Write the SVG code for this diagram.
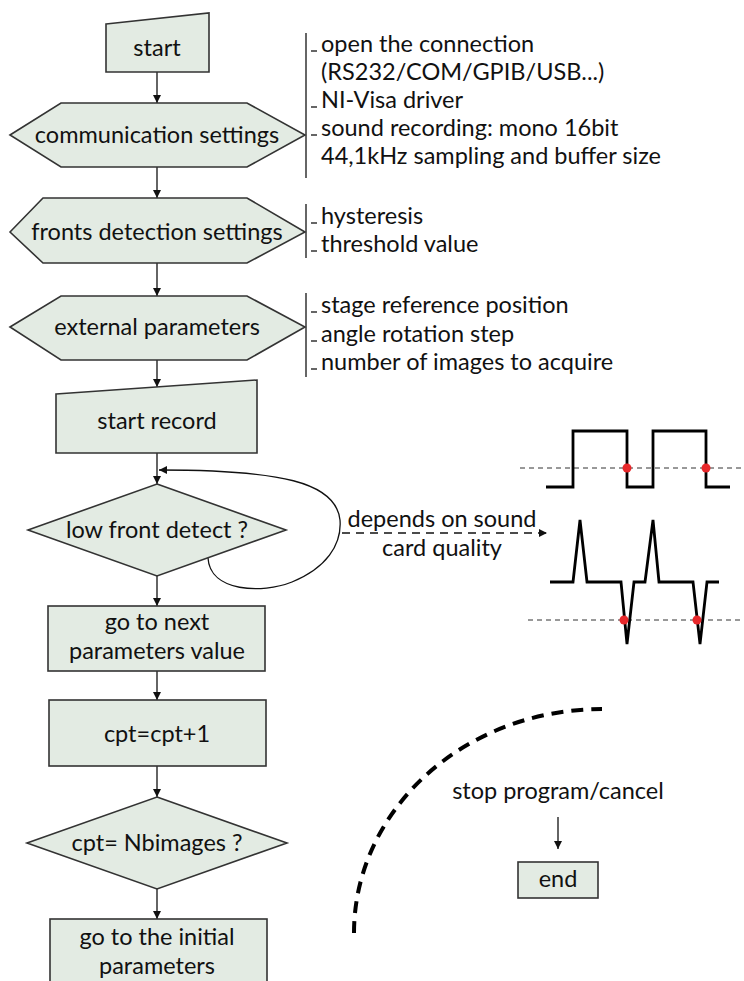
<svg xmlns="http://www.w3.org/2000/svg" width="744" height="981" viewBox="0 0 744 981">
<defs>
<marker id="ah" viewBox="0 0 10 10" refX="10" refY="5" markerWidth="8" markerHeight="8" markerUnits="userSpaceOnUse" orient="auto">
<path d="M0,0 L10,5 L0,10 z" fill="#111"/>
</marker>
<style>
.n{fill:#e3ebe3;stroke:#333;stroke-width:1.6}
.t{font-family:Lato,"Liberation Sans",sans-serif;font-size:23.5px;fill:#111;text-anchor:middle}
.s{font-family:Lato,"Liberation Sans",sans-serif;font-size:23.5px;fill:#111}
.c{fill:none;stroke:#111;stroke-width:1.3}
.br{stroke:#333;stroke-width:1.5}
.w{fill:none;stroke:#000;stroke-width:2.8;stroke-linejoin:miter}
.th{stroke:#333;stroke-width:1;stroke-dasharray:5 4}
.dot{fill:#e8282b}
</style>
</defs>
<rect width="744" height="981" fill="#fff"/>

<g id="connectors">
<line class="c" x1="157" y1="72" x2="157" y2="103" marker-end="url(#ah)"/>
<line class="c" x1="157" y1="167" x2="157" y2="198" marker-end="url(#ah)"/>
<line class="c" x1="157" y1="263" x2="157" y2="296" marker-end="url(#ah)"/>
<line class="c" x1="157" y1="360" x2="157" y2="387" marker-end="url(#ah)"/>
<line class="c" x1="157" y1="453" x2="157" y2="484" marker-end="url(#ah)"/>
<line class="c" x1="157" y1="576" x2="157" y2="606" marker-end="url(#ah)"/>
<line class="c" x1="157" y1="671" x2="157" y2="700" marker-end="url(#ah)"/>
<line class="c" x1="157" y1="766" x2="157" y2="797" marker-end="url(#ah)"/>
<line class="c" x1="157" y1="889" x2="157" y2="919" marker-end="url(#ah)"/>
<path class="c" d="M208,558 C210,592 262,594 292,582 C326,568 342,545 340,520 C336,482 280,470 159,470" marker-end="url(#ah)"/>
<line class="c" x1="342" y1="533" x2="547" y2="533" stroke-dasharray="8 6" marker-end="url(#ah)"/>
<line class="c" x1="558" y1="817" x2="558" y2="849" marker-end="url(#ah)"/>
</g>

<g id="start">
<polygon class="n" points="106,24 209,13 209,72 106,72"/>
<text class="t" x="157" y="56">start</text>
</g>

<g id="communication">
<polygon class="n" points="10,135 61,103 247,103 305,135 247,167 61,167"/>
<text class="t" x="157" y="143">communication settings</text>
</g>
<g id="communication-notes">
<line class="br" x1="306" y1="33" x2="306" y2="178"/>
<line class="br" x1="311" y1="51" x2="317" y2="51"/>
<line class="br" x1="311" y1="107" x2="317" y2="107"/>
<line class="br" x1="311" y1="135" x2="317" y2="135"/>
<text class="s" x="321" y="52">open the connection</text>
<text class="s" x="321" y="80">(RS232/COM/GPIB/USB...)</text>
<text class="s" x="321" y="108">NI-Visa driver</text>
<text class="s" x="321" y="136">sound recording: mono 16bit</text>
<text class="s" x="321" y="164">44,1kHz sampling and buffer size</text>
</g>

<g id="fronts">
<polygon class="n" points="10,232 43,198 247,198 305,232 247,263 43,263"/>
<text class="t" x="157" y="240">fronts detection settings</text>
</g>
<g id="fronts-notes">
<line class="br" x1="306" y1="204" x2="306" y2="258"/>
<line class="br" x1="311" y1="223" x2="317" y2="223"/>
<line class="br" x1="311" y1="251" x2="317" y2="251"/>
<text class="s" x="321" y="224">hysteresis</text>
<text class="s" x="321" y="252">threshold value</text>
</g>

<g id="external">
<polygon class="n" points="10,327 61,296 247,296 305,327 247,360 61,360"/>
<text class="t" x="157" y="335">external parameters</text>
</g>
<g id="external-notes">
<line class="br" x1="306" y1="293" x2="306" y2="377"/>
<line class="br" x1="311" y1="312" x2="317" y2="312"/>
<line class="br" x1="311" y1="341" x2="317" y2="341"/>
<line class="br" x1="311" y1="369" x2="317" y2="369"/>
<text class="s" x="321" y="313">stage reference position</text>
<text class="s" x="321" y="342">angle rotation step</text>
<text class="s" x="321" y="370">number of images to acquire</text>
</g>

<g id="start-record">
<polygon class="n" points="56,394 257,380 257,453 56,453"/>
<text class="t" x="157" y="429">start record</text>
</g>

<g id="low-front">
<polygon class="n" points="157,484 286,530 157,576 28,530"/>
<text class="t" x="157" y="538">low front detect ?</text>
</g>

<g id="loop-label">
<text class="t" x="442" y="527">depends on sound</text>
<text class="t" x="442" y="556">card quality</text>
</g>

<g id="waveforms">
<line class="th" x1="520" y1="468" x2="744" y2="468"/>
<polyline class="w" points="546,487 573,487 573,431 627,431 627,487 653,487 653,431 706,431 706,487 730,487"/>
<circle class="dot" cx="627" cy="468" r="4.5"/>
<circle class="dot" cx="706" cy="468" r="4.5"/>
<line class="th" x1="528" y1="620" x2="744" y2="620"/>
<polyline class="w" points="550,582 573,582 580,520 587,582 621,582 627,644 634,582 645,582 653,520 659,582 693,582 700,644 707,582 719,582"/>
<circle class="dot" cx="624" cy="620" r="4.5"/>
<circle class="dot" cx="697" cy="620" r="4.5"/>
</g>

<g id="next-params">
<rect class="n" x="48" y="606" width="217" height="65"/>
<text class="t" x="157" y="630">go to next</text>
<text class="t" x="157" y="659">parameters value</text>
</g>

<g id="cpt">
<rect class="n" x="49" y="700" width="217" height="66"/>
<text class="t" x="157" y="742">cpt=cpt+1</text>
</g>

<g id="cpt-check">
<polygon class="n" points="157,797 287,843 157,889 27,843"/>
<text class="t" x="157" y="851">cpt= Nbimages ?</text>
</g>

<g id="initial">
<rect class="n" x="50" y="919" width="217" height="80"/>
<text class="t" x="157" y="945">go to the initial</text>
<text class="t" x="157" y="974">parameters</text>
</g>

<g id="stop">
<path d="M354,933 A248,224 0 0 1 602,709" fill="none" stroke="#000" stroke-width="4" stroke-dasharray="12 8"/>
<text class="t" x="558" y="799">stop program/cancel</text>
</g>

<g id="end">
<rect class="n" x="518" y="862" width="80" height="36"/>
<text class="t" x="558" y="887">end</text>
</g>
</svg>
